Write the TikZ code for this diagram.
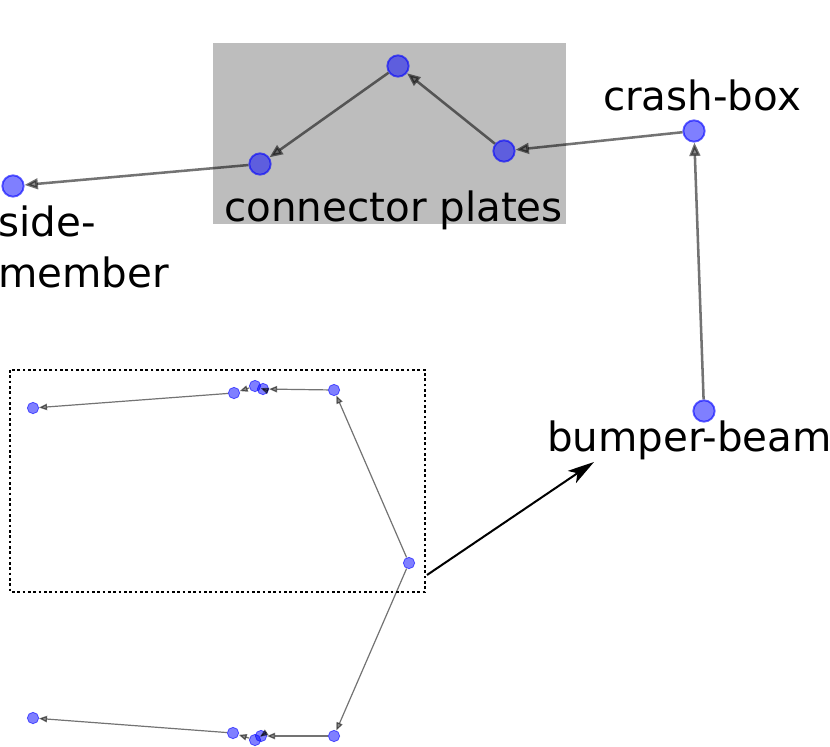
\documentclass[tikz,border=0pt]{standalone}
\usepackage{fontspec}
\setmainfont{DejaVu Sans}
\usetikzlibrary{arrows.meta}

\begin{document}
\begin{tikzpicture}[x=0.75pt,y=-0.75pt,
        part/.style={circle,inner sep=0pt,minimum size=16pt,fill=blue,fill opacity=0.5,draw=blue,draw opacity=0.6,line width=1.4pt},
        smallpart/.style={circle,inner sep=0pt,minimum size=8.5pt,fill=blue,fill opacity=0.5,draw=blue,draw opacity=0.6,line width=0.6pt},
        link/.style={draw=black,draw opacity=0.55,fill opacity=0.45,line width=1.9pt,-{Triangle[length=10pt,width=8pt]}},
        smalllink/.style={draw=black,draw opacity=0.55,fill opacity=0.45,line width=0.9pt,-{Triangle[length=6pt,width=4.8pt]}},
        lbl/.style={inner sep=0pt,font=\fontsize{30.3}{38}\selectfont}]
        \useasboundingbox (0,0) rectangle (830,746);
        \fill[black!26] (213,43) rectangle (566,224);
        % full size chain
        \node[part] (side) at (13,186) {};
        \node[part] (plateL) at (260,164) {};
        \node[part] (plateT) at (398,66) {};
        \node[part] (plateR) at (504,151) {};
        \node[part] (crash) at (694,131) {};
        \node[part] (bumper) at (704,411) {};
        \draw[link] (bumper) -- (crash);
        \draw[link] (crash) -- (plateR);
        \draw[link] (plateR) -- (plateT);
        \draw[link] (plateT) -- (plateL);
        \draw[link] (plateL) -- (side);
        \node[lbl,anchor=base] (crashlbl) at (702,110) {crash-box};
        \node[lbl,anchor=base west] (platelbl) at (224,221) {connector plates};
        \node[lbl,anchor=base west,align=left] (sidelbl) at (-2,287) {side-\\member};
        \node[lbl,anchor=base west] (bumperlbl) at (547,451) {bumper-beam};
        % small model, both halves
        \draw[line width=0.9pt,dash pattern=on 2pt off 2pt] (10,370) rectangle (425,592);
        \node[smallpart] (ibumper) at (409,563) {};
        \node[smallpart] (icrash) at (334,390) {};
        \node[smallpart] (iplateR) at (263,389) {};
        \node[smallpart] (iplateT) at (255,386) {};
        \node[smallpart] (iplateL) at (234,393) {};
        \node[smallpart] (iside) at (33,408) {};
        \node[smallpart] (jcrash) at (334,736) {};
        \node[smallpart] (jplateR) at (261,736) {};
        \node[smallpart] (jplateT) at (255,740) {};
        \node[smallpart] (jplateL) at (233,733) {};
        \node[smallpart] (jside) at (33,718) {};
        \draw[smalllink] (ibumper) -- (icrash);
        \draw[smalllink] (icrash) -- (iplateR);
        \draw[smalllink] (iplateR.center) -- (iplateT);
        \draw[smalllink] (iplateT) -- (iplateL);
        \draw[smalllink] (iplateL) -- (iside);
        \draw[smalllink] (ibumper) -- (jcrash);
        \draw[smalllink] (jcrash) -- (jplateR);
        \draw[smalllink] (jplateR.center) -- (jplateT);
        \draw[smalllink] (jplateT) -- (jplateL);
        \draw[smalllink] (jplateL) -- (jside);
        % zoom arrow
        \coordinate (zoomfrom) at (427,575);
        \coordinate (zoomto) at (594,462);
        \draw[line width=1.5pt,-{Stealth[length=20pt,width=11pt,inset=5pt]}] (zoomfrom) -- (zoomto);
    \end{tikzpicture}
\end{document}
